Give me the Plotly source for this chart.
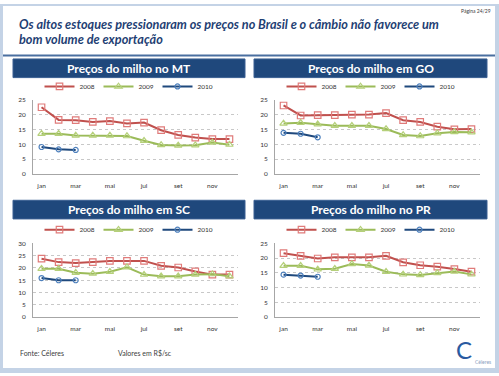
import plotly.graph_objects as go

W, H = 499, 376

months = ["jan", "fev", "mar", "abr", "mai", "jun", "jul", "ago", "set", "out", "nov", "dez"]
tick_months = ["jan", "mar", "mai", "jul", "set", "nov"]
years = ["2008", "2009", "2010"]

mt_2008 = [22.6, 18.3, 18.2, 17.6, 17.9, 17.1, 17.4, 14.8, 13.2, 12.3, 11.8, 11.8]
mt_2009 = [13.6, 13.6, 13.0, 13.0, 13.0, 12.8, 11.2, 9.8, 9.6, 9.7, 10.6, 9.9]
mt_2010 = [9.1, 8.3, 8.1]

go_2008 = [23.2, 19.8, 19.9, 19.9, 20.1, 20.1, 20.6, 18.2, 17.6, 16.0, 15.1, 15.2]
go_2009 = [17.1, 17.3, 16.8, 16.3, 16.3, 16.3, 15.2, 13.2, 12.8, 13.8, 14.2, 14.1]
go_2010 = [13.9, 13.6, 12.4]

sc_2008 = [23.8, 22.4, 22.0, 22.4, 22.9, 22.9, 22.9, 20.9, 20.2, 18.6, 17.3, 17.3]
sc_2009 = [19.7, 19.7, 18.1, 17.7, 18.5, 20.3, 17.3, 16.6, 16.6, 17.3, 17.5, 16.6]
sc_2010 = [15.9, 15.0, 15.0]

pr_2008 = [21.7, 20.8, 19.9, 20.3, 20.3, 20.3, 20.8, 18.6, 17.6, 17.1, 16.3, 15.4]
pr_2009 = [17.4, 17.4, 16.2, 16.4, 18.0, 17.5, 15.4, 14.5, 14.3, 15.0, 15.5, 14.5]
pr_2010 = [14.4, 14.1, 13.7]

panel_titles = ["Preços do milho no MT", "Preços do milho em GO",
                "Preços do milho em SC", "Preços do milho no PR"]
panel_data = [
    [mt_2008, mt_2009, mt_2010],
    [go_2008, go_2009, go_2010],
    [sc_2008, sc_2009, sc_2010],
    [pr_2008, pr_2009, pr_2010],
]
y_max = [25, 25, 30, 25]

def px(x):
    return x / W

def py(y):
    return 1 - y / H

# layout geometry (pixels)
plot_x = [(33, 238), (275, 480), (33, 238), (275, 480)]
plot_y = [(98, 173), (98, 173), (244, 319), (244, 319)]
bar_x = [(13, 245), (254, 487), (13, 245), (254, 487)]
bar_y = [(56, 75), (56, 75), (200, 219), (200, 219)]
legend_y = [84, 84, 230, 230]
legend_cx = [128, 370, 128, 370]

line_colors = ["#c0504d", "#9bbb59", "#1f497d"]
marker_colors = ["#e07b7a", "#b5d07a", "#4f81bd"]
symbols = ["square-open", "triangle-up-open", "circle-open"]
msizes = [6.5, 6.5, 5]

fig = go.Figure()
layout = dict(
    width=W, height=H,
    margin=dict(l=0, r=0, t=0, b=0),
    paper_bgcolor="white", plot_bgcolor="white",
    font=dict(family="Lato", color="#404040"),
    shapes=[], annotations=[],
)

for i in range(4):
    xa = "xaxis" if i == 0 else f"xaxis{i+1}"
    ya = "yaxis" if i == 0 else f"yaxis{i+1}"
    xref = "x" if i == 0 else f"x{i+1}"
    yref = "y" if i == 0 else f"y{i+1}"
    lg = "legend" if i == 0 else f"legend{i+1}"
    for k, (yr, vals) in enumerate(zip(years, panel_data[i])):
        fig.add_trace(go.Scatter(
            x=months[:len(vals)], y=vals, name=yr, mode="lines+markers",
            xaxis=xref, yaxis=yref, legend=lg,
            line=dict(color=line_colors[k], width=2),
            marker=dict(symbol=symbols[k], size=msizes[k], color=marker_colors[k],
                        line=dict(width=1.2, color=marker_colors[k])),
        ))
    layout[xa] = dict(
        domain=[px(plot_x[i][0]), px(plot_x[i][1])], anchor=yref,
        type="category", categoryorder="array", categoryarray=months,
        range=[-0.5, 11.5], tickmode="array", tickvals=tick_months,
        showgrid=False, showline=True, linecolor="#a6a6a6", linewidth=1,
        ticks="outside", ticklen=5, tickcolor="rgba(0,0,0,0)",
        tickfont=dict(size=6.5, color="#333333"), fixedrange=True,
    )
    layout[ya] = dict(
        domain=[py(plot_y[i][1]), py(plot_y[i][0])], anchor=xref,
        range=[0, y_max[i]], dtick=5, tick0=0,
        showgrid=True, gridcolor="#c8c8c8", griddash="dot", gridwidth=1,
        showline=True, linecolor="#a6a6a6", linewidth=1, zeroline=False,
        ticks="outside", ticklen=5, tickcolor="rgba(0,0,0,0)",
        tickfont=dict(size=6.5, color="#333333"), fixedrange=True,
    )
    layout[lg] = dict(
        orientation="h", x=px(legend_cx[i]), xanchor="center",
        y=py(legend_y[i]), yanchor="middle", xref="paper", yref="paper",
        font=dict(size=6.5, color="#333333"), bgcolor="rgba(0,0,0,0)",
        itemwidth=30, entrywidth=14,
    )
    # title bar
    layout["shapes"].append(dict(
        type="rect", xref="paper", yref="paper",
        x0=px(bar_x[i][0]), x1=px(bar_x[i][1]), y0=py(bar_y[i][1]), y1=py(bar_y[i][0]),
        fillcolor="#1f487c", line=dict(color="#3a5f92", width=1), layer="below",
    ))
    layout["annotations"].append(dict(
        text=f"<b>{panel_titles[i]}</b>", xref="paper", yref="paper",
        x=px((bar_x[i][0] + bar_x[i][1]) / 2), y=py((bar_y[i][0] + bar_y[i][1]) / 2),
        xanchor="center", yanchor="middle", showarrow=False,
        font=dict(size=12, color="white", family="Lato"),
    ))

# frame border
frame_col = "#c4d3e6"
for (x0, y0, x1, y1) in [(0, 0, W, 2), (0, 0, 3, H), (W - 4, 0, W, H), (0, H - 5, W, H)]:
    layout["shapes"].append(dict(
        type="rect", xref="paper", yref="paper",
        x0=px(x0), x1=px(x1), y0=py(y1), y1=py(y0),
        fillcolor=frame_col, line=dict(width=0),
    ))
# separator under heading
layout["shapes"].append(dict(
    type="line", xref="paper", yref="paper",
    x0=px(3), x1=px(W - 4), y0=py(52.5), y1=py(52.5),
    line=dict(color="#4a6fa0", width=2),
))

# heading
layout["annotations"] += [
    dict(text="<b><i>Os altos estoques pressionaram os preços no Brasil e o câmbio não favorece um</i></b>",
         xref="paper", yref="paper", x=px(17), y=py(20), xanchor="left", yanchor="middle",
         showarrow=False, font=dict(size=12.7, color="#1f3f74", family="Lato")),
    dict(text="<b><i>bom volume de exportação</i></b>",
         xref="paper", yref="paper", x=px(17), y=py(36), xanchor="left", yanchor="middle",
         showarrow=False, font=dict(size=12.7, color="#1f3f74", family="Lato")),
    dict(text="Página 24/29", xref="paper", yref="paper", x=px(493), y=py(7),
         xanchor="right", yanchor="middle", showarrow=False,
         font=dict(size=5, color="#404040", family="Lato")),
    dict(text="Fonte: Céleres", xref="paper", yref="paper", x=px(18), y=py(356),
         xanchor="left", yanchor="middle", showarrow=False,
         font=dict(size=7, color="#404040", family="Lato")),
    dict(text="Valores em R$/sc", xref="paper", yref="paper", x=px(116), y=py(356),
         xanchor="left", yanchor="middle", showarrow=False,
         font=dict(size=7, color="#404040", family="Lato")),
    dict(text="C", xref="paper", yref="paper", x=px(464), y=py(352),
         xanchor="center", yanchor="middle", showarrow=False,
         font=dict(size=24, color="#2a5aa0", family="Lato")),
    dict(text="Céleres", xref="paper", yref="paper", x=px(483), y=py(365),
         xanchor="center", yanchor="middle", showarrow=False,
         font=dict(size=5, color="#8aa0c0", family="Lato")),
]

fig.update_layout(**layout)
fig.write_html("out.html", config={"displayModeBar": False},
               post_script="document.body.style.margin='0';document.body.style.overflow='hidden';")
